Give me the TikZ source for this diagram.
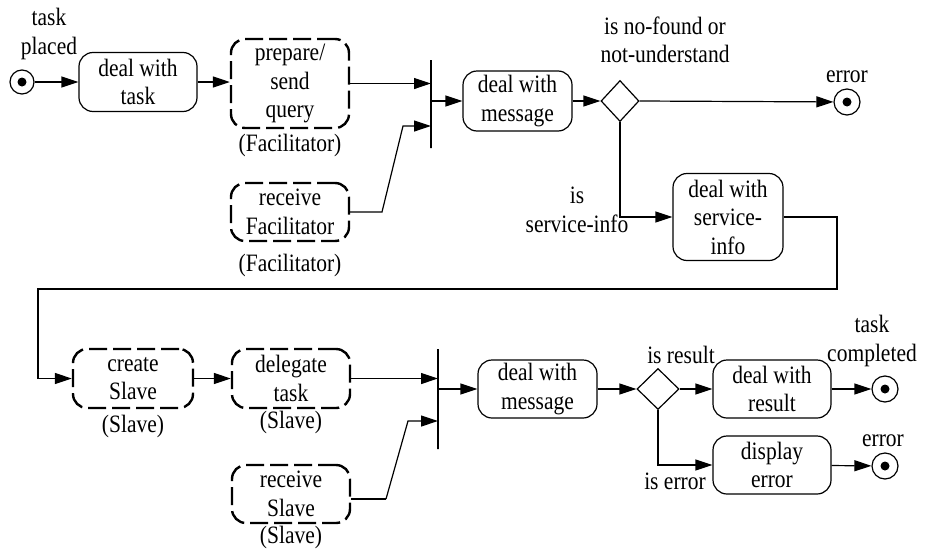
\documentclass[tikz,border=0pt]{standalone}
\usepackage{fontspec}
\setmainfont{Liberation Serif}[FakeStretch=0.86]
\usetikzlibrary{shapes.geometric,arrows.meta}
\begin{document}
\begin{tikzpicture}[x=1pt,y=-1pt,
  font=\fontsize{25}{28.5}\selectfont,
  every node/.style={inner sep=0pt},
  act/.style={draw, rounded corners=14pt, line width=1.2pt, align=center},
  dact/.style={draw, rounded corners=14pt, line width=2.4pt,
               dash pattern=on 18pt off 6pt, align=center},
  lbl/.style={align=center},
  bar/.style={draw, line width=1.2pt, minimum width=0pt},
  choice/.style={draw, diamond, line width=1.2pt, minimum width=#1, minimum height=41pt},
  endpt/.style={draw, circle, line width=1.2pt, minimum size=26pt,
                path picture={\fill (path picture bounding box.center) circle (4.5pt);}},
  arr/.style={-{Triangle[length=17pt,width=11pt]}, line width=1.2pt},
  link/.style={line width=1.2pt}]
\useasboundingbox (0,0) rectangle (926,549);

% ---------- facilitator query stage ----------
\node[endpt, minimum size=24pt] (start) at (22,82) {};
\node[lbl] (lstart) at (49,34) {task\\placed};
\node[act, minimum width=118pt, minimum height=59pt] (dwt) at (138,82) {deal with\\task};
\node[dact, minimum width=118pt, minimum height=89pt] (prep) at (290,83.5) {prepare/\\send\\query};
\node[lbl] (fac1) at (290,145) {(Facilitator)};
\node[dact, minimum width=118pt, minimum height=58pt] (recvf) at (290,212) {receive\\Facilitator};
\node[lbl] (fac2) at (290,265) {(Facilitator)};
\node[bar, minimum height=88pt] (bar1) at (431,104) {};
\node[act, minimum width=109pt, minimum height=60pt] (dwm1) at (517.5,101) {deal with\\message};
\node[choice=38pt] (d1) at (620,101) {};
\node[endpt] (err1) at (847,102) {};
\node[lbl] (lerr1) at (847,77) {error};
\node[lbl] (lnf) at (665,40) {is no-found or\\not-understand};
\node[act, minimum width=110pt, minimum height=87pt] (dsi) at (728,217) {deal with\\service-\\info};
\node[lbl] (lsi) at (577,210) {is\\service-info};

\draw[arr] (start) -- (dwt);
\draw[arr] (dwt) -- (prep.west |- dwt);
\draw[arr] (prep.east) -- (prep.east -| bar1);
\coordinate (kf1) at (382,212);
\coordinate (kf2) at (403,126);
\draw[arr] (recvf.east) -- (kf1) -- (kf2) -- (kf2 -| bar1);
\draw[arr] (bar1 |- dwm1) -- (dwm1);
\draw[arr] (dwm1) -- (d1);
\draw[arr] (d1.east) -- (err1);
\draw[arr] (d1.south) |- (dsi.west);

% ---------- slave delegation stage ----------
\node[dact, minimum width=120pt, minimum height=59pt] (cs) at (133,378.5) {create\\Slave};
\node[lbl] (sl1) at (133,426) {(Slave)};
\node[dact, minimum width=118pt, minimum height=59pt] (dt) at (291,378.5) {delegate\\task};
\node[lbl] (sl2) at (291,422) {(Slave)};
\node[dact, minimum width=118pt, minimum height=58pt] (rs) at (291,494) {receive\\Slave};
\node[lbl] (sl3) at (291,537) {(Slave)};
\node[bar, minimum height=100pt] (bar2) at (438,399) {};
\node[act, minimum width=119pt, minimum height=58pt] (dwm2) at (537.5,389) {deal with\\message};
\node[choice=42pt] (d2) at (658,389) {};
\node[act, minimum width=118pt, minimum height=58pt] (dwr) at (772,389) {deal with\\result};
\node[act, minimum width=118pt, minimum height=58pt] (de) at (772,465) {display\\error};
\node[endpt] (done) at (885,389) {};
\node[lbl] (ldone) at (872,341) {task\\completed};
\node[endpt] (err2) at (885,466) {};
\node[lbl] (lerr2) at (883,441) {error};
\node[lbl] (lres) at (681,355) {is result};
\node[lbl] (lerr) at (675,481) {is error};

% loop from service-info down to the slave stage
\coordinate (lp1) at (837,289);
\coordinate (lp2) at (38,289);
\draw[arr] (dsi.east) -| (lp1) -- (lp2) |- (cs.west);

\draw[arr] (cs) -- (dt);
\draw[arr] (dt.east) -- (dt.east -| bar2);
\coordinate (ks1) at (386,499);
\coordinate (ks2) at (408,421);
\draw[link] (rs.east |- ks1) -- (ks1);
\draw[arr] (ks1) -- (ks2) -- (ks2 -| bar2);
\draw[arr] (bar2 |- dwm2) -- (dwm2);
\draw[arr] (dwm2) -- (d2);
\draw[arr] (d2) -- (dwr);
\draw[arr] (dwr) -- (done);
\draw[arr] (d2.south) |- (de.west);
\draw[arr] (de) -- (err2);
\end{tikzpicture}
\end{document}
